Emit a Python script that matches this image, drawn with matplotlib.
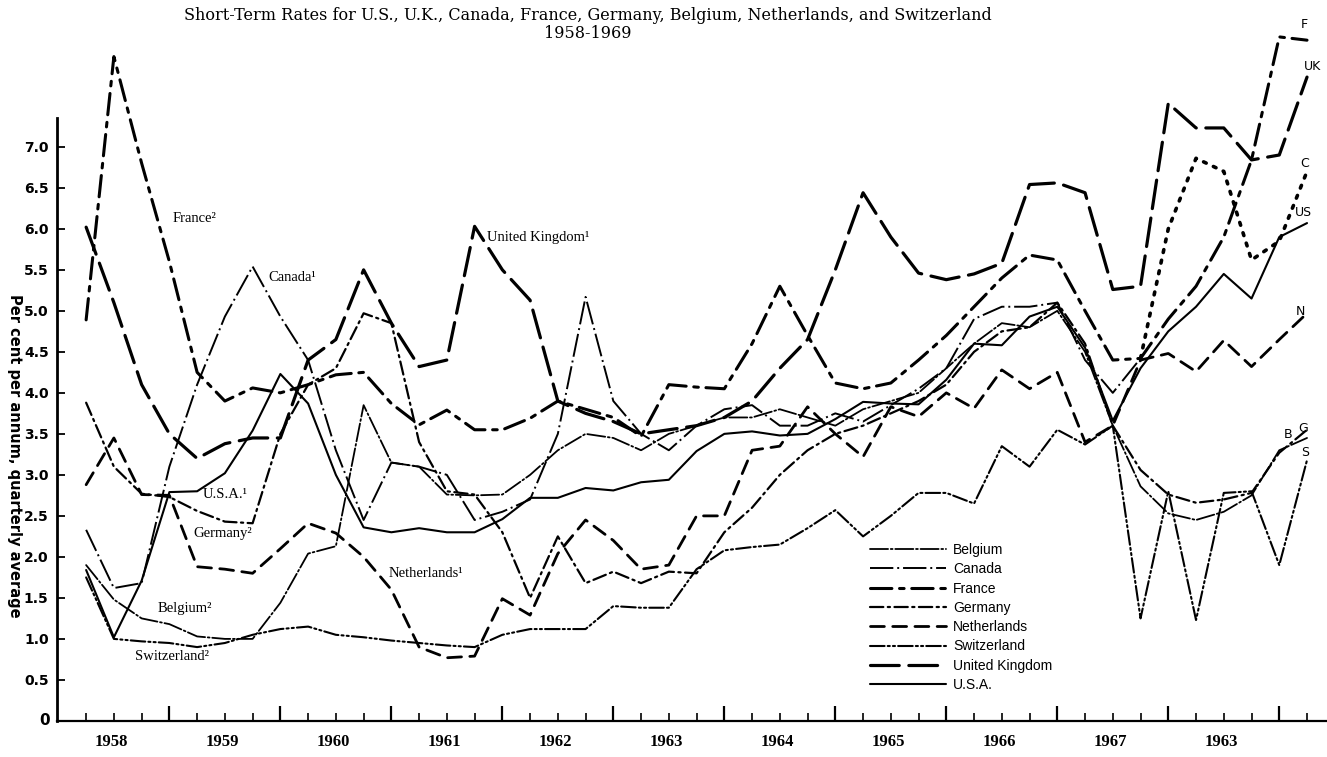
import matplotlib
matplotlib.use("Agg")
import matplotlib.pyplot as plt

# quarterly averages, 1958 Q1 .. 1969 Q1 (quarter index 0..44)
quarters = list(range(45))

usa = [1.84, 1.02, 1.71, 2.79, 2.80, 3.02, 3.54, 4.23, 3.87, 3.00, 2.36, 2.30,
       2.35, 2.30, 2.30, 2.46, 2.72, 2.72, 2.84, 2.81, 2.91, 2.94, 3.29, 3.50,
       3.53, 3.48, 3.50, 3.68, 3.89, 3.87, 3.86, 4.16, 4.60, 4.58, 4.93, 5.05,
       4.55, 3.66, 4.30, 4.75, 5.05, 5.45, 5.15, 5.90, 6.07]
uk = [6.02, 5.10, 4.10, 3.50, 3.20, 3.38, 3.45, 3.45, 4.40, 4.65, 5.50, 4.85,
      4.32, 4.40, 6.03, 5.50, 5.13, 3.90, 3.75, 3.65, 3.50, 3.55, 3.60, 3.70,
      3.90, 4.30, 4.65, 5.50, 6.44, 5.90, 5.46, 5.38, 5.45, 5.58, 6.54, 6.56,
      6.44, 5.26, 5.30, 7.53, 7.23, 7.23, 6.84, 6.90, 7.85]
france = [4.89, 8.10, 6.80, 5.60, 4.25, 3.90, 4.06, 4.00, 4.10, 4.22, 4.25, 3.87,
          3.61, 3.79, 3.55, 3.55, 3.69, 3.90, 3.80, 3.70, 3.47, 4.10, 4.07, 4.05,
          4.60, 5.30, 4.70, 4.12, 4.05, 4.12, 4.40, 4.70, 5.05, 5.40, 5.68, 5.62,
          5.00, 4.40, 4.42, 4.90, 5.30, 5.90, 6.84, 8.34, 8.30]
canada = [2.33, 1.62, 1.68, 3.10, 4.10, 4.93, 5.54, 4.93, 4.40, 3.30, 2.45, 3.15,
          3.10, 3.00, 2.45, 2.55, 2.70, 3.50, 5.17, 3.90, 3.50, 3.30, 3.60, 3.80,
          3.85, 3.60, 3.60, 3.75, 3.65, 3.85, 4.05, 4.30, 4.90, 5.05, 5.05, 5.10,
          4.40, 4.00, 4.42, 6.00, 6.86, 6.70, 5.62, 5.85, 6.70]
germany = [3.88, 3.10, 2.77, 2.73, 2.56, 2.43, 2.41, 3.50, 4.10, 4.30, 4.97, 4.85,
           3.40, 2.80, 2.76, 2.30, 1.50, 2.25, 1.68, 1.82, 1.68, 1.82, 1.80, 2.30,
           2.60, 3.00, 3.30, 3.50, 3.60, 3.75, 3.90, 4.10, 4.50, 4.75, 4.80, 5.10,
           4.60, 3.60, 3.06, 2.76, 2.66, 2.70, 2.78, 3.27, 3.55]
netherlands = [2.88, 3.45, 2.76, 2.75, 1.88, 1.85, 1.80, 2.10, 2.41, 2.29, 2.00, 1.60,
               0.90, 0.77, 0.79, 1.49, 1.29, 2.04, 2.45, 2.20, 1.85, 1.90, 2.50, 2.50,
               3.30, 3.35, 3.83, 3.50, 3.22, 3.83, 3.71, 4.00, 3.81, 4.28, 4.05, 4.25,
               3.40, 3.60, 4.40, 4.48, 4.26, 4.64, 4.32, 4.65, 4.97]
belgium = [1.90, 1.48, 1.25, 1.18, 1.03, 1.00, 1.00, 1.44, 2.04, 2.13, 3.85, 3.15,
           3.10, 2.76, 2.75, 2.76, 3.00, 3.30, 3.50, 3.45, 3.30, 3.50, 3.60, 3.70,
           3.70, 3.80, 3.70, 3.60, 3.80, 3.90, 4.00, 4.30, 4.60, 4.85, 4.80, 5.00,
           4.50, 3.60, 2.86, 2.53, 2.45, 2.55, 2.75, 3.30, 3.45]
switzerland = [1.75, 1.00, 0.97, 0.95, 0.90, 0.95, 1.05, 1.12, 1.15, 1.05, 1.02, 0.98,
               0.95, 0.92, 0.90, 1.05, 1.12, 1.12, 1.12, 1.40, 1.38, 1.38, 1.85, 2.08,
               2.12, 2.15, 2.35, 2.57, 2.25, 2.50, 2.78, 2.78, 2.65, 3.35, 3.10, 3.55,
               3.37, 3.60, 1.25, 2.80, 1.23, 2.78, 2.80, 1.90, 3.18]

years = ['1958', '1959', '1960', '1961', '1962', '1963', '1964', '1965',
         '1966', '1967', '1963']
yticks = [0.5, 1.0, 1.5, 2.0, 2.5, 3.0, 3.5, 4.0, 4.5, 5.0, 5.5, 6.0, 6.5, 7.0]

fig = plt.figure(figsize=(13.27, 7.57), dpi=100)
ax = fig.add_axes([57 / 1327, 0, 1270 / 1327, 1])
ax.set_xlim(-1.05, 44.72)
ax.set_ylim(-0.44, 8.79)

# series, line style, width
series = [
    ('Belgium', belgium, (0, (10, 1.5, 1, 1.5)), 1.3),
    ('Canada', canada, (0, (12, 2, 1, 2)), 1.4),
    ('France', france, (0, (7, 2.5, 1.5, 2.5)), 2.2),
    ('Germany', germany, (0, (6, 2, 1, 2)), 1.6),
    ('Netherlands', netherlands, (0, (5, 3)), 2.0),
    ('Switzerland', switzerland, (0, (7, 1.5, 1, 1.5, 1, 1.5)), 1.5),
    ('United Kingdom', uk, (0, (9, 3)), 2.3),
    ('U.S.A.', usa, '-', 1.5),
]
handles = []
for name, vals, ls, lw in series:
    if name == 'Canada':
        # the last stretch of the Canadian line is drawn dotted in the original
        ln, = ax.plot(quarters[:39], vals[:39], color='black', linestyle=ls,
                      linewidth=lw)
        ax.plot(quarters[38:], vals[38:], color='black', linestyle=(0, (0.8, 2.2)),
                linewidth=2.6, dash_capstyle='round')
    else:
        ln, = ax.plot(quarters, vals, color='black', linestyle=ls, linewidth=lw,
                      solid_capstyle='round', dash_capstyle='round')
    handles.append(ln)

# axes frame
for s in ['top', 'right']:
    ax.spines[s].set_visible(False)
ax.spines['bottom'].set_position(('data', 0))
ax.spines['left'].set_bounds(0, 7.35)
ax.spines['left'].set_linewidth(2)
ax.spines['bottom'].set_linewidth(1.6)

ax.set_yticks(yticks)
ax.set_yticklabels([f'{t:.1f}' for t in yticks], fontsize=10, fontweight='bold',
                   family='DejaVu Sans')
ax.tick_params(axis='y', direction='in', length=6, width=1.3, pad=6)
ax.text(-1.3, 0, '0', ha='right', va='center', fontsize=11, fontweight='bold')

ax.set_xticks([3 + 4 * n for n in range(11)])
ax.set_xticks(quarters, minor=True)
ax.set_xticklabels([])
ax.tick_params(axis='x', which='major', direction='in', length=11, width=1.6)
ax.tick_params(axis='x', which='minor', direction='in', length=6, width=1.2)
for n, yr in enumerate(years):
    ax.text(0.9 + 4 * n, -0.26, yr, ha='center', va='center', fontsize=12,
            fontweight='bold', family='Liberation Serif')

fig.text(14 / 1327, 1 - 456 / 757, 'Per cent per annum, quarterly average',
         rotation=270, ha='center', va='center', fontsize=10.5, fontweight='bold',
         family='DejaVu Sans')

fig.text(588 / 1327, 1 - 16 / 757,
         'Short-Term Rates for U.S., U.K., Canada, France, Germany, Belgium, '
         'Netherlands, and Switzerland',
         ha='center', va='center', fontsize=11.5, family='DejaVu Serif')
fig.text(588 / 1327, 1 - 34 / 757, '1958-1969', ha='center', va='center',
         fontsize=11.5, family='DejaVu Serif')

# labels on the lines
serif = dict(fontsize=10.5, family='Liberation Serif', ha='left', va='center')
ax.text(3.1, 6.13, 'France²', **serif)
ax.text(6.56, 5.41, 'Canada¹', **serif)
ax.text(14.45, 5.89, 'United Kingdom¹', **serif)
ax.text(4.2, 2.76, 'U.S.A.¹', **serif)
ax.text(3.86, 2.29, 'Germany²', **serif)
ax.text(10.9, 1.8, 'Netherlands¹', **serif)
ax.text(2.56, 1.37, 'Belgium²', **serif)
ax.text(1.77, 0.78, 'Switzerland²', **serif)

small = dict(fontsize=9, ha='center', va='center', family='DejaVu Sans')
for lab, xq, yv in [('F', 43.9, 8.49), ('UK', 44.2, 7.98), ('C', 43.9, 6.8),
                    ('US', 43.86, 6.2), ('N', 43.75, 4.99), ('B', 43.3, 3.49),
                    ('G', 43.86, 3.57), ('S', 43.93, 3.27)]:
    ax.text(xq, yv, lab, **small)

ax.legend(handles, [s[0] for s in series], loc='upper left',
          bbox_to_anchor=((870 - 57) / 1270, 1 - 543 / 757), frameon=False,
          handlelength=5.5, handletextpad=0.5, labelspacing=0.38,
          borderpad=0, borderaxespad=0, prop={'family': 'Liberation Sans', 'size': 10})

fig.savefig('out.png', dpi=100)
